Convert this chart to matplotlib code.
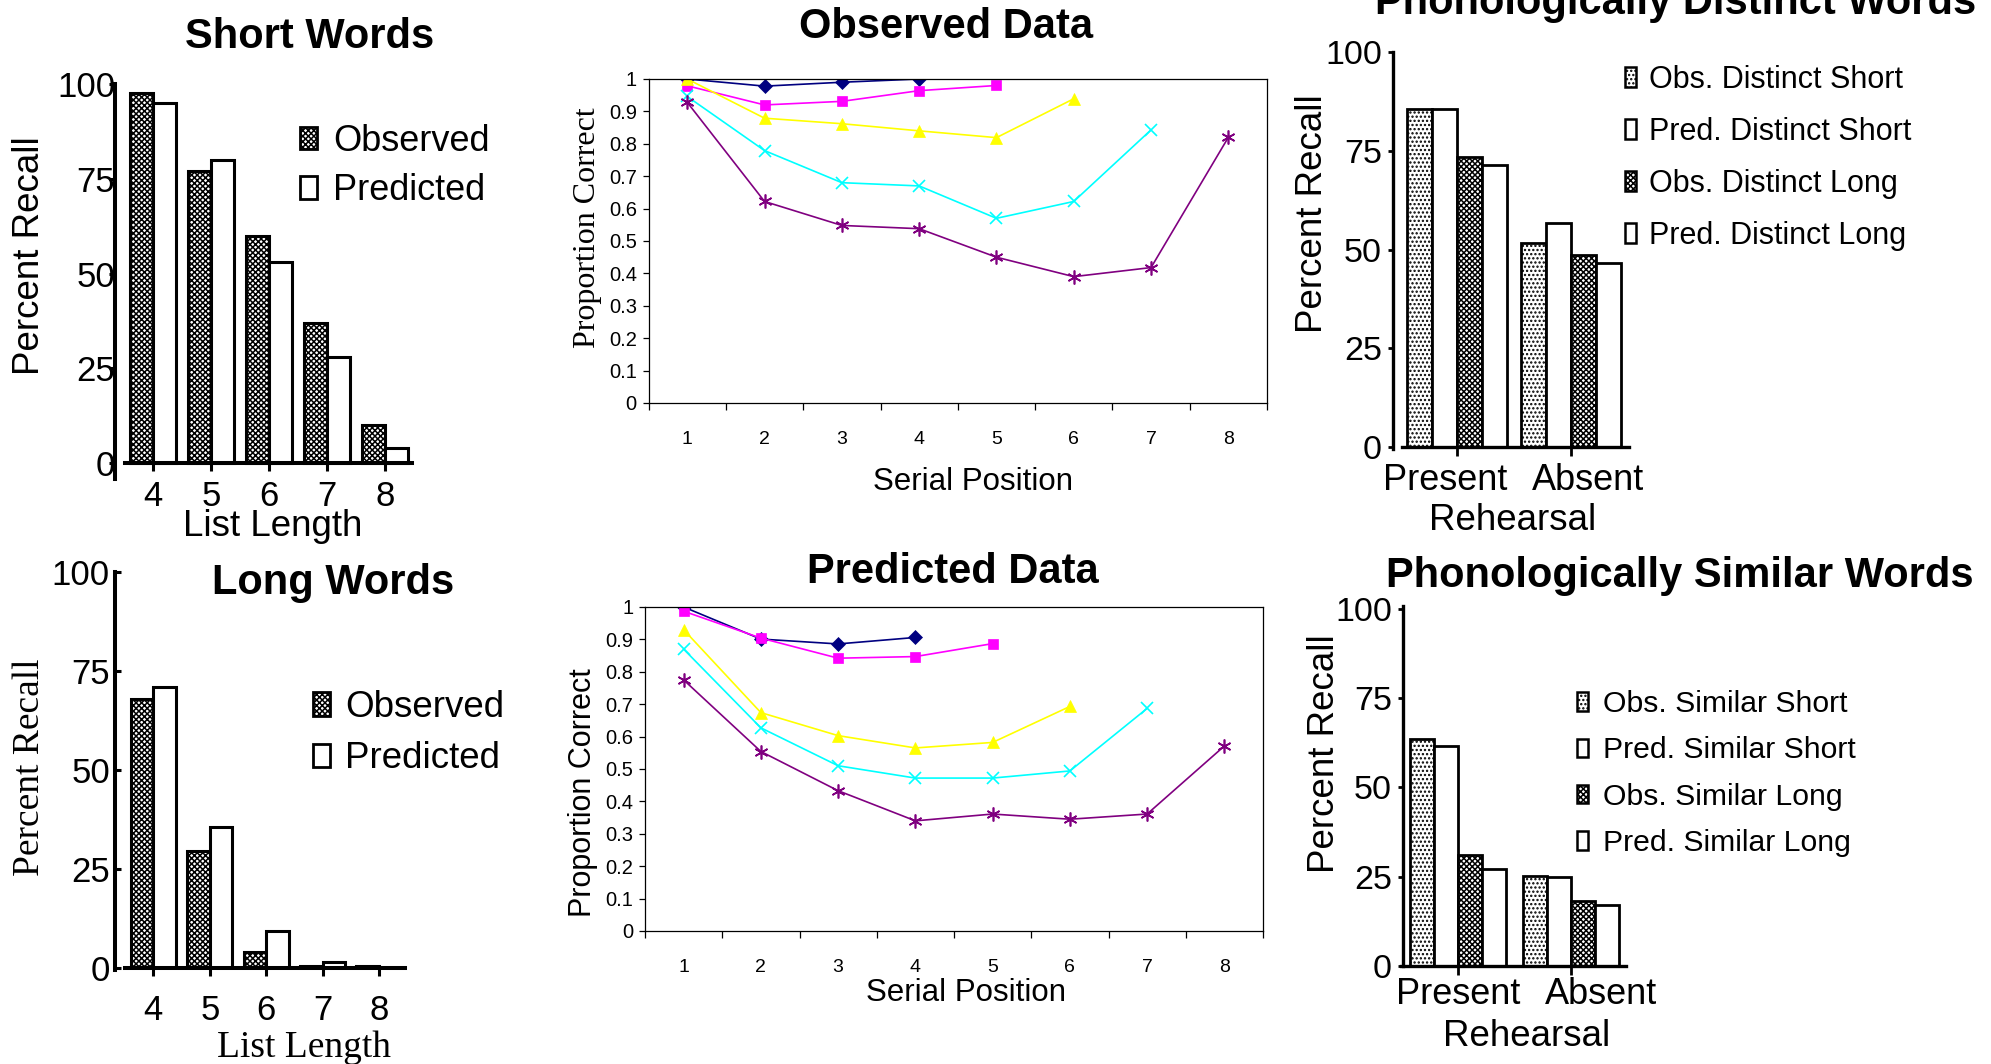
import matplotlib.pyplot as plt
from matplotlib.patches import Patch

plt.rcParams['font.family'] = ['Liberation Sans', 'DejaVu Sans']
plt.rcParams['hatch.linewidth'] = 1.1

W, H = 1991, 1064

# list length panels
lengths = [4, 5, 6, 7, 8]
short_obs = [97.7, 77.0, 60.0, 37.0, 10.0]
short_pred = [94.9, 79.9, 53.1, 28.0, 3.9]
long_obs = [68.0, 29.6, 4.0, 0.4, 0.4]
long_pred = [71.0, 35.7, 9.3, 1.5, 0.0]

# serial position curves, one list per list length
obs_len4 = [1.0, 0.978, 0.99, 1.0]
obs_len5 = [0.979, 0.92, 0.931, 0.964, 0.98]
obs_len6 = [1.0, 0.879, 0.862, 0.84, 0.819, 0.939]
obs_len7 = [0.946, 0.779, 0.68, 0.67, 0.57, 0.622, 0.843]
obs_len8 = [0.928, 0.622, 0.548, 0.538, 0.45, 0.39, 0.418, 0.82]

pred_len4 = [1.0, 0.901, 0.886, 0.906]
pred_len5 = [0.987, 0.904, 0.842, 0.847, 0.887]
pred_len6 = [0.93, 0.674, 0.603, 0.565, 0.582, 0.693]
pred_len7 = [0.87, 0.627, 0.51, 0.472, 0.472, 0.494, 0.687]
pred_len8 = [0.775, 0.554, 0.433, 0.34, 0.361, 0.345, 0.361, 0.571]

positions = [1, 2, 3, 4, 5, 6, 7, 8]
y_ticks = [0, 0.1, 0.2, 0.3, 0.4, 0.5, 0.6, 0.7, 0.8, 0.9, 1]
y_ticklabels = ['0', '0.1', '0.2', '0.3', '0.4', '0.5', '0.6', '0.7', '0.8', '0.9', '1']

# rehearsal panels
rehearsal = ['Present', 'Absent']
distinct_obs_short = [85.5, 51.6]
distinct_pred_short = [85.5, 56.7]
distinct_obs_long = [73.5, 48.7]
distinct_pred_long = [71.5, 46.5]
similar_obs_short = [63.6, 25.2]
similar_pred_short = [61.4, 25.0]
similar_obs_long = [31.1, 18.2]
similar_pred_long = [27.1, 17.1]

fig = plt.figure(figsize=(W / 100, H / 100), dpi=100)


def px_axes(left, top, right, bottom):
    return fig.add_axes([left / W, 1 - bottom / H, (right - left) / W, (bottom - top) / H])


def ftext(x, y, s, **kw):
    fig.text(x / W, 1 - y / H, s, **kw)


CHECK = 'xxxxxx'
DOTS = '....'

# ---------------- list length panels (left) ----------------
def length_panel(ax, obs, pred, xlim, ylim, xbounds, ytick_dir, ypad, xpad):
    ax.bar([x - 0.2 for x in lengths], obs, 0.4, facecolor='white', edgecolor='black',
           hatch=CHECK, linewidth=2.2)
    ax.bar([x + 0.2 for x in lengths], pred, 0.4, facecolor='white', edgecolor='black',
           linewidth=2.2)
    ax.set_xlim(*xlim)
    ax.set_ylim(*ylim)
    for s in ['top', 'right']:
        ax.spines[s].set_visible(False)
    ax.spines['left'].set_linewidth(2.9)
    ax.spines['bottom'].set_linewidth(2.9)
    ax.spines['bottom'].set_position(('data', 0))
    ax.spines['bottom'].set_bounds(*xbounds)
    ax.set_xticks(lengths)
    ax.set_yticks([0, 25, 50, 75, 100])
    ax.tick_params(axis='x', direction='out', length=6, width=2.2, labelsize=25, pad=xpad)
    ax.tick_params(axis='y', direction=ytick_dir, length=4, width=2.2, labelsize=25, pad=ypad)
    ax.patch.set_alpha(0)


ax1 = px_axes(115, 84, 412, 479)
length_panel(ax1, short_obs, short_pred, (3.345, 8.47), (-4.2, 100), (3.52, 8.47), 'out', -4, 6)
ftext(310, 37, 'Short Words', fontsize=30, fontweight='bold', ha='center', va='center')
ftext(30, 256, 'Percent Recall', fontsize=26.5, rotation=90, ha='center', va='center')
ftext(273, 526, 'List Length', fontsize=26.5, ha='center', va='center')
fig.legend(handles=[Patch(facecolor='white', edgecolor='black', hatch=CHECK, lw=2),
                    Patch(facecolor='white', edgecolor='black', lw=2)],
           labels=['Observed', 'Predicted'], loc='upper left',
           bbox_to_anchor=(300 / W, 1 - 124 / H), frameon=False, fontsize=26,
           handlelength=0.47, handleheight=0.58, handletextpad=0.44, labelspacing=0.4,
           borderpad=0, borderaxespad=0)

ax4 = px_axes(115, 572, 405, 970)
length_panel(ax4, long_obs, long_pred, (3.32, 8.46), (-0.5, 100), (3.5, 8.46), 'in', 3.6, 12.5)
ftext(333, 583, 'Long Words', fontsize=30, fontweight='bold', ha='center', va='center')
ftext(30, 767, 'Percent Recall', fontsize=27, rotation=90, ha='center', va='center',
      family='Liberation Serif')
ftext(304, 1048, 'List Length', fontsize=27, ha='center', va='center', family='Liberation Serif')
fig.legend(handles=[Patch(facecolor='white', edgecolor='black', hatch=CHECK, lw=2),
                    Patch(facecolor='white', edgecolor='black', lw=2)],
           labels=['Observed', 'Predicted'], loc='upper left',
           bbox_to_anchor=(313 / W, 1 - 690 / H), frameon=False, fontsize=26.5,
           handlelength=0.46, handleheight=0.6, handletextpad=0.41, labelspacing=0.44,
           borderpad=0, borderaxespad=0)

# ---------------- serial position panels (middle) ----------------
styles = [('#000080', 'D', 7), ('#FF00FF', 's', 7), ('#FFFF00', '^', 8.5),
          ('#00FFFF', 'x', 8.5), ('#800080', (6, 2, 0), 10)]


def serial_panel(ax, curves):
    for vals, (c, m, ms) in zip(curves, styles):
        ax.plot(positions[:len(vals)], vals, color=c, marker=m, markersize=ms, lw=1.2,
                markeredgewidth=1.2 if m == 'x' or isinstance(m, tuple) else 0.5)
    ax.set_xlim(0.5, 8.5)
    ax.set_ylim(0, 1)
    for s in ax.spines.values():
        s.set_linewidth(0.9)
    ax.set_xticks(positions)
    ax.set_xticks([p - 0.5 for p in positions] + [8.5], minor=True)
    ax.set_yticks(y_ticks)
    ax.set_yticklabels(y_ticklabels)
    ax.tick_params(axis='x', which='major', length=0, labelsize=14, pad=20)
    ax.tick_params(axis='x', which='minor', direction='out', length=5, width=0.9)
    ax.tick_params(axis='y', direction='out', length=4.5, width=0.9, labelsize=14.5, pad=4)


ax2 = px_axes(648.6, 79, 1267, 403)
serial_panel(ax2, [obs_len4, obs_len5, obs_len6, obs_len7, obs_len8])
ftext(946, 27, 'Observed Data', fontsize=30, fontweight='bold', ha='center', va='center')
ftext(587, 228, 'Proportion Correct', fontsize=23, rotation=90, ha='center', va='center',
      family='Liberation Serif')
ftext(973, 482, 'Serial Position', fontsize=22.5, ha='center', va='center')

ax5 = px_axes(645, 607, 1263, 931)
serial_panel(ax5, [pred_len4, pred_len5, pred_len6, pred_len7, pred_len8])
ftext(953, 572, 'Predicted Data', fontsize=30, fontweight='bold', ha='center', va='center')
ftext(583, 793, 'Proportion Correct', fontsize=22, rotation=90, ha='center', va='center')
ftext(966, 993, 'Serial Position', fontsize=22.5, ha='center', va='center')

# ---------------- rehearsal panels (right) ----------------
def rehearsal_panel(ax, series, w, xlim, ylim, xbounds, label_shift, label_drop):
    hatches = [DOTS, None, CHECK, None]
    offsets = [-1.5, -0.5, 0.5, 1.5]
    for vals, h, o in zip(series, hatches, offsets):
        ax.bar([i + o * w for i in range(len(rehearsal))], vals, w, facecolor='white',
               edgecolor='black', hatch=h, linewidth=2.0)
    ax.set_xlim(*xlim)
    ax.set_ylim(*ylim)
    for s in ['top', 'right']:
        ax.spines[s].set_visible(False)
    ax.spines['left'].set_linewidth(2.4)
    ax.spines['bottom'].set_linewidth(2.4)
    ax.spines['bottom'].set_position(('data', 0))
    ax.spines['bottom'].set_bounds(*xbounds)
    ax.set_xticks(range(len(rehearsal)))
    ax.set_yticks([0, 25, 50, 75, 100])
    ax.tick_params(axis='x', direction='out', length=6.5, width=2.0, labelbottom=False)
    ax.tick_params(axis='y', direction='out', length=3.5, width=2.0, labelsize=24.5, pad=4)
    # category names sit a little off their ticks in the original
    for i, name in enumerate(rehearsal):
        ax.annotate(name, xy=(i + label_shift[i], 0), xytext=(0, -label_drop * 0.72),
                    textcoords='offset points', ha='center', va='center', fontsize=26)
    ax.patch.set_alpha(0)


def rehearsal_legend(labels, x, top, fs, hl, hh, tp, ls):
    hatches = [DOTS, None, CHECK, None]
    fig.legend(handles=[Patch(facecolor='white', edgecolor='black', hatch=h, lw=1.8)
                        for h in hatches],
               labels=labels, loc='upper left', bbox_to_anchor=(x / W, 1 - top / H),
               frameon=False, fontsize=fs, handlelength=hl, handleheight=hh,
               handletextpad=tp, labelspacing=ls, borderpad=0, borderaxespad=0)


ax3 = px_axes(1392.5, 52, 1629, 449)
rehearsal_panel(ax3, [distinct_obs_short, distinct_pred_short, distinct_obs_long, distinct_pred_long],
                0.219, (-0.566, 1.509), (-0.5, 100), (-0.487, 1.509), [-0.105, 0.15], 33)
ftext(1676, 14, 'Phonologically Distinct Words', fontsize=30, fontweight='bold',
      ha='center', va='baseline')
ftext(1312, 214, 'Percent Recall', fontsize=26.5, rotation=90, ha='center', va='center')
ftext(1513, 521, 'Rehearsal', fontsize=26.5, ha='center', va='center')
rehearsal_legend(['Obs. Distinct Short', 'Pred. Distinct Short', 'Obs. Distinct Long',
                  'Pred. Distinct Long'], 1625, 65, 22, 0.36, 0.62, 0.44, 0.72)

ax6 = px_axes(1402.5, 606, 1625.6, 966)
rehearsal_panel(ax6, [similar_obs_short, similar_pred_short, similar_obs_long, similar_pred_long],
                0.213, (-0.491, 1.483), (0, 100.7), (-0.5, 1.483), [0.0, 0.265], 28)
ftext(1680, 587, 'Phonologically Similar Words', fontsize=30, fontweight='bold',
      ha='center', va='baseline')
ftext(1325, 754, 'Percent Recall', fontsize=26.5, rotation=90, ha='center', va='center')
ftext(1527, 1036, 'Rehearsal', fontsize=26.5, ha='center', va='center')
rehearsal_legend(['Obs. Similar Short', 'Pred. Similar Short', 'Obs. Similar Long',
                  'Pred. Similar Long'], 1577, 690, 21.7, 0.37, 0.56, 0.5, 0.61)

fig.savefig('out.png', dpi=100)
